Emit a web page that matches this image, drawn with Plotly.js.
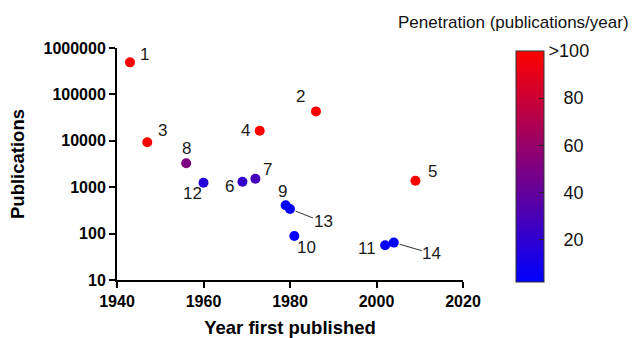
<!DOCTYPE html>
<html>
<head>
<meta charset="utf-8">
<script src="https://cdn.plot.ly/plotly-3.0.1.min.js"></script>
<style>html,body{margin:0;padding:0;background:#fff;}#chart{width:633px;height:338px;}</style>
</head>
<body>
<div id="chart"></div>
<script>
// Data
const labels = ['1','2','3','4','5','6','7','8','9','10','11','12','13','14'];
const years = [1943, 1986, 1947, 1973, 2009, 1969, 1972, 1956, 1979, 1981, 2002, 1960, 1980, 2004];
const publications = [490000, 43000, 9300, 16500, 1380, 1310, 1520, 3270, 410, 89, 56, 1250, 340, 64];
const penetration = [100, 100, 100, 100, 100, 22, 28, 50, 3, 3, 3, 15, 3, 3];
const colorTickVals = [20, 40, 60, 80, 100];
const colorTickText = ['\u00a0\u00a0\u00a020', '\u00a0\u00a0\u00a040', '\u00a0\u00a0\u00a060', '\u00a0\u00a0\u00a080', '>100'];
const xTickVals = [1940, 1960, 1980, 2000, 2020];
const yTickVals = [10, 100, 1000, 10000, 100000, 1000000];
const yTickText = ['10', '100', '1000', '10000', '100000', '1000000'];

// label placement (pixel offsets; leader = drawn with a line)
const labelPos = {
  '1': {dx: 15, dy: -8}, '2': {dx: -15, dy: -15}, '3': {dx: 15, dy: -12},
  '4': {dx: -14, dy: 0}, '5': {dx: 17, dy: -9}, '6': {dx: -13, dy: 5},
  '7': {dx: 12, dy: -9}, '8': {dx: 0, dy: -15}, '9': {dx: -3, dy: -14},
  '10': {dx: 12, dy: 12}, '11': {dx: -18, dy: 3}, '12': {dx: -11, dy: 11},
  '13': {dx: 33, dy: 13, leader: true}, '14': {dx: 38, dy: 11, leader: true}
};

const font = 'Arial, "Liberation Sans", sans-serif';

const annotations = labels.map((lab, i) => {
  const p = labelPos[lab];
  const base = {
    x: years[i], y: Math.log10(publications[i]), xref: 'x', yref: 'y',
    text: lab, font: {family: font, size: 17, color: '#1a1a1a'}
  };
  if (p.leader) {
    return Object.assign(base, {showarrow: true, arrowhead: 0, arrowwidth: 1,
      arrowcolor: '#333', ax: p.dx, ay: p.dy, standoff: 6, borderpad: 0});
  }
  return Object.assign(base, {showarrow: false, xshift: p.dx, yshift: -p.dy});
});

annotations.push({
  text: 'Penetration (publications/year)', xref: 'paper', yref: 'paper',
  x: 1.145, y: 1.11, showarrow: false, xanchor: 'center', yanchor: 'middle',
  font: {family: font, size: 17, color: '#111'}
});

const trace = {
  type: 'scatter', mode: 'markers', x: years, y: publications,
  marker: {
    size: 10, color: penetration, cmin: 2, cmax: 100,
    colorscale: [[0, '#0000ff'], [1, '#ff0000']],
    showscale: true,
    line: {width: 0},
    colorbar: {
      x: 1.153, xanchor: 'left', xpad: 0, ypad: 0,
      y: 0.987, yanchor: 'top', len: 231, lenmode: 'pixels',
      thickness: 28, thicknessmode: 'pixels',
      outlinewidth: 1, outlinecolor: '#333',
      tickmode: 'array', tickvals: colorTickVals, ticktext: colorTickText,
      ticks: 'inside', ticklen: 5, tickwidth: 1, tickcolor: '#222',
      tickfont: {family: font, size: 18, color: '#111'}
    }
  },
  hoverinfo: 'none'
};

const layout = {
  width: 633, height: 338,
  margin: {l: 117, r: 170, t: 48, b: 58},
  paper_bgcolor: '#fff', plot_bgcolor: '#fff',
  showlegend: false,
  xaxis: {
    range: [1940, 2020], tickvals: xTickVals, showgrid: false, zeroline: false,
    showline: true, linecolor: '#000', linewidth: 2,
    ticks: 'outside', ticklen: 6, tickwidth: 2, tickcolor: '#000',
    tickfont: {family: font, size: 16, color: '#000', weight: 'bold'},
    title: {text: 'Year first published', standoff: 13,
      font: {family: font, size: 18.5, color: '#000', weight: 'bold'}}
  },
  yaxis: {
    type: 'log', range: [1, 6], tickmode: 'array', tickvals: yTickVals, ticktext: yTickText,
    showgrid: false, zeroline: false,
    showline: true, linecolor: '#000', linewidth: 2,
    ticks: 'outside', ticklen: 6, tickwidth: 2, tickcolor: '#000',
    tickfont: {family: font, size: 16, color: '#000', weight: 'bold'},
    title: {text: 'Publications', standoff: 14,
      font: {family: font, size: 18.5, color: '#000', weight: 'bold'}}
  },
  annotations: annotations
};

Plotly.newPlot('chart', [trace], layout, {displayModeBar: false, staticPlot: true});
</script>
</body>
</html>
